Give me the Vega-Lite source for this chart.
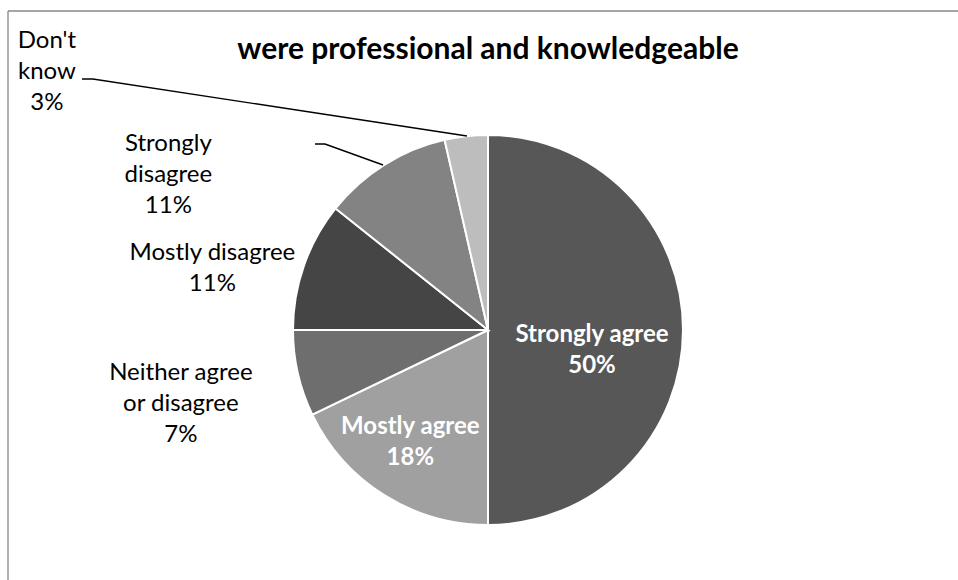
{
  "$schema": "https://vega.github.io/schema/vega-lite/v6.json",
  "width": 950,
  "height": 569,
  "autosize": "none",
  "padding": {"left": 8, "top": 11, "right": 0, "bottom": 0},
  "background": "white",
  "view": {"stroke": null, "fill": null},
  "config": {"font": "Lato"},
  "title": {
    "text": "were professional and knowledgeable",
    "font": "Lato",
    "fontSize": 30,
    "fontWeight": "bold",
    "color": "#000000",
    "anchor": "middle",
    "frame": "group",
    "baseline": "alphabetic",
    "offset": -77,
    "dx": 5,
    "dy": 34
  },
  "datasets": {
    "responses": [
      {"response": "Strongly agree", "count": 14, "rank": 1, "label": "Strongly agree\n50%"},
      {"response": "Mostly agree", "count": 5, "rank": 2, "label": "Mostly agree\n18%"},
      {"response": "Neither agree or disagree", "count": 2, "rank": 3, "label": "Neither agree\nor disagree\n7%"},
      {"response": "Mostly disagree", "count": 3, "rank": 4, "label": "Mostly disagree\n11%"},
      {"response": "Strongly disagree", "count": 3, "rank": 5, "label": "Strongly\ndisagree\n11%"},
      {"response": "Don't know", "count": 1, "rank": 6, "label": "Don't\nknow\n3%"}
    ],
    "leaders": [
      {"leader": "Don't know", "step": 1, "x": -2.082, "y": 1.287},
      {"leader": "Don't know", "step": 2, "x": -2.026, "y": 1.287},
      {"leader": "Don't know", "step": 3, "x": -0.108, "y": 0.995},
      {"leader": "Strongly disagree", "step": 1, "x": -0.887, "y": 0.954},
      {"leader": "Strongly disagree", "step": 2, "x": -0.836, "y": 0.954},
      {"leader": "Strongly disagree", "step": 3, "x": -0.538, "y": 0.846}
    ]
  },
  "layer": [
    {
      "data": {"name": "responses"},
      "mark": {"type": "arc", "radius": 195, "stroke": "#ffffff", "strokeWidth": 2},
      "encoding": {
        "x": {"datum": 0, "type": "quantitative", "scale": {"domain": [-2.4615, 2.4103], "nice": false, "zero": false}, "axis": null},
        "y": {"datum": 0, "type": "quantitative", "scale": {"domain": [-1.2821, 1.6359], "nice": false, "zero": false}, "axis": null},
        "theta": {"field": "count", "type": "quantitative", "stack": true},
        "order": {"field": "rank", "type": "quantitative"},
        "color": {
          "field": "response",
          "type": "nominal",
          "scale": {
            "domain": ["Strongly agree", "Mostly agree", "Neither agree or disagree", "Mostly disagree", "Strongly disagree", "Don't know"],
            "range": ["#575757", "#a0a0a0", "#6e6e6e", "#454545", "#838383", "#bdbdbd"]
          },
          "legend": null
        }
      }
    },
    {
      "data": {"name": "responses"},
      "mark": {"type": "text", "radius": 104, "dy": 5, "font": "Lato", "fontSize": 24, "fontWeight": "bold", "color": "#ffffff", "align": "center", "baseline": "middle", "lineHeight": 31, "lineBreak": "\n"},
      "encoding": {
        "x": {"datum": 0, "type": "quantitative"},
        "y": {"datum": 0, "type": "quantitative"},
        "theta": {"field": "count", "type": "quantitative", "stack": true},
        "order": {"field": "rank", "type": "quantitative"},
        "text": {"condition": {"test": "datum.response === 'Strongly agree'", "field": "label"}, "value": ""}
      }
    },
    {
      "data": {"name": "responses"},
      "mark": {"type": "text", "radius": 146, "dy": -27, "font": "Lato", "fontSize": 24, "fontWeight": "bold", "color": "#ffffff", "align": "center", "baseline": "middle", "lineHeight": 31, "lineBreak": "\n"},
      "encoding": {
        "x": {"datum": 0, "type": "quantitative"},
        "y": {"datum": 0, "type": "quantitative"},
        "theta": {"field": "count", "type": "quantitative", "stack": true},
        "order": {"field": "rank", "type": "quantitative"},
        "text": {"condition": {"test": "datum.response === 'Mostly agree'", "field": "label"}, "value": ""}
      }
    },
    {
      "data": {"name": "responses"},
      "mark": {"type": "text", "radius": 315, "dy": -27, "font": "Lato", "fontSize": 24, "color": "#000000", "align": "center", "baseline": "middle", "lineHeight": 31, "lineBreak": "\n"},
      "encoding": {
        "x": {"datum": 0, "type": "quantitative"},
        "y": {"datum": 0, "type": "quantitative"},
        "theta": {"field": "count", "type": "quantitative", "stack": true},
        "order": {"field": "rank", "type": "quantitative"},
        "text": {"condition": {"test": "datum.response === 'Neither agree or disagree'", "field": "label"}, "value": ""}
      }
    },
    {
      "data": {"name": "responses"},
      "mark": {"type": "text", "radius": 292, "dy": 19, "font": "Lato", "fontSize": 24, "color": "#000000", "align": "center", "baseline": "middle", "lineHeight": 31, "lineBreak": "\n"},
      "encoding": {
        "x": {"datum": 0, "type": "quantitative"},
        "y": {"datum": 0, "type": "quantitative"},
        "theta": {"field": "count", "type": "quantitative", "stack": true},
        "order": {"field": "rank", "type": "quantitative"},
        "text": {"condition": {"test": "datum.response === 'Mostly disagree'", "field": "label"}, "value": ""}
      }
    },
    {
      "data": {"name": "responses"},
      "mark": {"type": "text", "radius": 300, "dx": -160, "dy": 68, "font": "Lato", "fontSize": 24, "color": "#000000", "align": "center", "baseline": "middle", "lineHeight": 31, "lineBreak": "\n"},
      "encoding": {
        "x": {"datum": 0, "type": "quantitative"},
        "y": {"datum": 0, "type": "quantitative"},
        "theta": {"field": "count", "type": "quantitative", "stack": true},
        "order": {"field": "rank", "type": "quantitative"},
        "text": {"condition": {"test": "datum.response === 'Strongly disagree'", "field": "label"}, "value": ""}
      }
    },
    {
      "data": {"name": "responses"},
      "mark": {"type": "text", "radius": 260, "dx": -412, "dy": -31, "font": "Lato", "fontSize": 24, "color": "#000000", "align": "center", "baseline": "middle", "lineHeight": 31, "lineBreak": "\n"},
      "encoding": {
        "x": {"datum": 0, "type": "quantitative"},
        "y": {"datum": 0, "type": "quantitative"},
        "theta": {"field": "count", "type": "quantitative", "stack": true},
        "order": {"field": "rank", "type": "quantitative"},
        "text": {"condition": {"test": "datum.response === \"Don't know\"", "field": "label"}, "value": ""}
      }
    },
    {
      "data": {"name": "leaders"},
      "mark": {"type": "line", "color": "#000000", "strokeWidth": 1.4},
      "encoding": {
        "x": {"field": "x", "type": "quantitative"},
        "y": {"field": "y", "type": "quantitative"},
        "detail": {"field": "leader", "type": "nominal"},
        "order": {"field": "step", "type": "quantitative"}
      }
    },
    {
      "data": {"values": [{}]},
      "mark": {"type": "rule", "color": "#878787", "strokeWidth": 1.3},
      "encoding": {"x": {"datum": -2.4615, "type": "quantitative"}}
    },
    {
      "data": {"values": [{}]},
      "mark": {"type": "rule", "color": "#878787", "strokeWidth": 1.3},
      "encoding": {"y": {"datum": 1.6359, "type": "quantitative"}}
    }
  ]
}
